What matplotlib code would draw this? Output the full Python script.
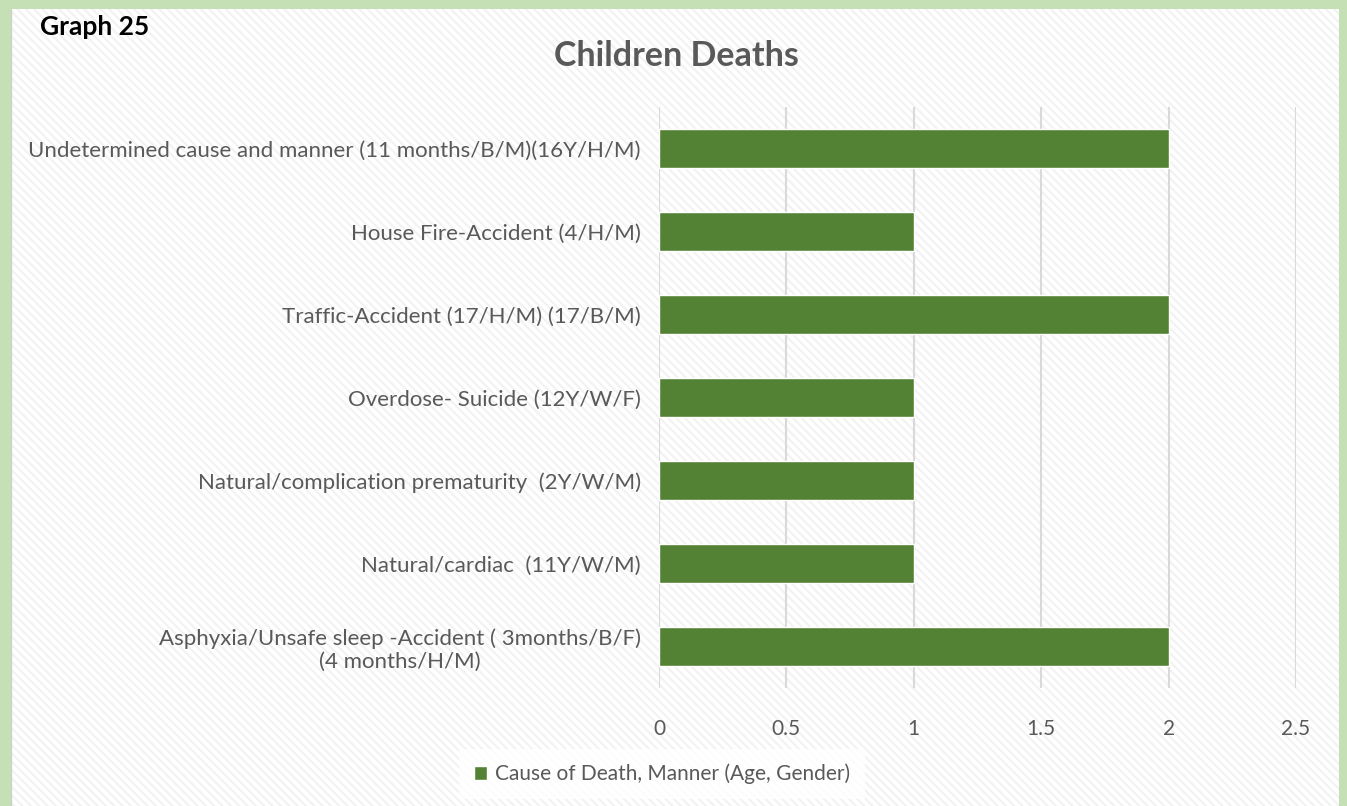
import matplotlib.pyplot as plt
from matplotlib.patches import Rectangle

plt.rcParams['font.family'] = ['Lato', 'DejaVu Sans']
plt.rcParams['hatch.linewidth'] = 1.5

# categories listed bottom to top
causes = [
    "Asphyxia/Unsafe sleep -Accident ( 3months/B/F)\n(4 months/H/M)",
    "Natural/cardiac  (11Y/W/M)",
    "Natural/complication prematurity  (2Y/W/M)",
    "Overdose- Suicide (12Y/W/F)",
    "Traffic-Accident (17/H/M) (17/B/M)",
    "House Fire-Accident (4/H/M)",
    "Undetermined cause and manner (11 months/B/M)(16Y/H/M)",
]
deaths = [2, 1, 1, 1, 2, 1, 2]
x_ticks = [0, 0.5, 1, 1.5, 2, 2.5]
x_tick_labels = ["0", "0.5", "1", "1.5", "2", "2.5"]

W, H = 1347, 806
fig = plt.figure(figsize=(W / 100, H / 100), dpi=100)
fig.patch.set_facecolor('#c5e0b4')

# inner white panel with light diagonal stripes
panel = Rectangle((11 / W, 0), (1339 - 11) / W, (H - 9) / H, transform=fig.transFigure,
                  facecolor='white', edgecolor='none', zorder=-3)
fig.patches.append(panel)
stripes = Rectangle((11 / W, 0), (1339 - 11) / W, (H - 9) / H, transform=fig.transFigure,
                    facecolor='none', edgecolor='#f2f2f2', hatch='\\\\\\\\', linewidth=0, zorder=-2)
fig.patches.append(stripes)
fig.add_artist(plt.Line2D([11 / W, 11 / W], [0, (H - 9) / H], color='#d0d0d0', lw=1, zorder=-1))

ax = fig.add_axes([659 / W, 118 / H, 637 / W, 581 / H])
ax.set_facecolor('none')
ax.barh(range(len(causes)), deaths, height=0.48, color='#548235', edgecolor='white',
        linewidth=1, zorder=3, label="Cause of Death, Manner (Age, Gender)")
ax.set_xlim(0, 2.5)
ax.set_ylim(-0.5, len(causes) - 0.5)
ax.set_xticks(x_ticks)
ax.set_xticklabels(x_tick_labels)
ax.set_yticks(range(len(causes)))
ax.set_yticklabels(causes, ha='right', multialignment='center')
ax.grid(axis='x', color='#d9d9d9', linewidth=1.5, zorder=0)
for s in ax.spines.values():
    s.set_visible(False)
ax.tick_params(axis='both', length=0, colors='#595959')
ax.tick_params(axis='x', pad=22, labelsize=15)
ax.tick_params(axis='y', pad=13, labelsize=16)

fig.text(676 / W, 1 - 56 / H, "Children Deaths", ha='center', va='center',
         fontsize=24.5, fontweight='bold', color='#595959')
fig.text(40 / W, 1 - 27 / H, "Graph 25", ha='left', va='center',
         fontsize=19, fontweight='bold', color='black')

leg = fig.legend(loc='center', bbox_to_anchor=(662 / W, 1 - 774 / H), frameon=True,
                 fontsize=15, handlelength=0.6, handleheight=0.6, handletextpad=0.4,
                 borderpad=0.7, fancybox=False, borderaxespad=0)
leg.get_frame().set_facecolor('white')
leg.get_frame().set_edgecolor('none')
for t in leg.get_texts():
    t.set_color('#595959')

fig.savefig('out.png', dpi=100, facecolor=fig.get_facecolor())
